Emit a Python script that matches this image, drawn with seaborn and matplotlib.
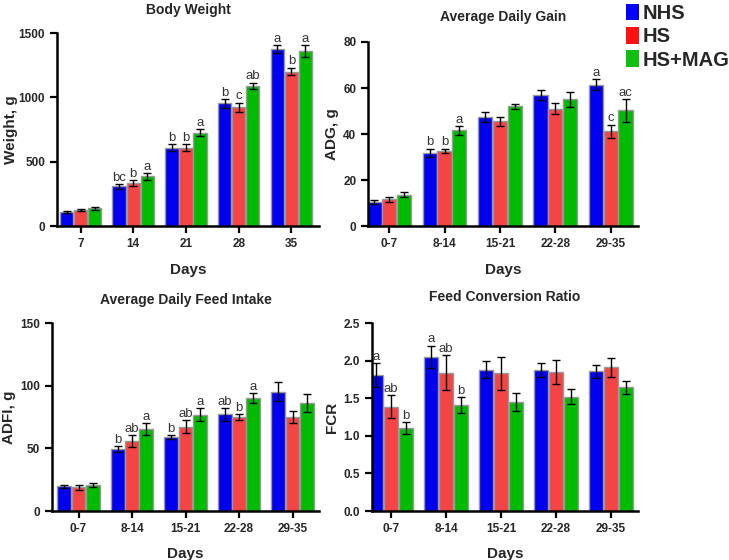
import numpy as np
import pandas as pd
import matplotlib
matplotlib.use("Agg")
import matplotlib.pyplot as plt
import seaborn as sns
from matplotlib.patches import Patch

groups = ["NHS", "HS", "HS+MAG"]
bw_days = ["7", "14", "21", "28", "35"]
periods = ["0-7", "8-14", "15-21", "22-28", "29-35"]

# Body weight, g
bw_nhs = [114, 309, 611, 954, 1375]
bw_hs = [127, 335, 611, 923, 1201]
bw_mag = [138, 387, 725, 1089, 1360]
bw_err_nhs = [8, 18, 28, 35, 32]
bw_err_hs = [8, 22, 25, 36, 30]
bw_err_mag = [13, 28, 28, 26, 45]
bw_let_nhs = ["", "bc", "b", "b", "a"]
bw_let_hs = ["", "b", "b", "c", "b"]
bw_let_mag = ["", "a", "a", "ab", "a"]

# Average daily gain, g
adg_nhs = [10.4, 31.8, 47.3, 57.0, 61.5]
adg_hs = [11.7, 32.8, 45.6, 51.1, 41.2]
adg_mag = [13.7, 41.7, 52.1, 55.1, 50.3]
adg_err_nhs = [0.9, 1.9, 2.2, 2.2, 2.4]
adg_err_hs = [1.1, 0.9, 2.0, 2.4, 2.9]
adg_err_mag = [1.1, 1.9, 1.0, 3.2, 4.9]
adg_let_nhs = ["", "b", "", "", "a"]
adg_let_hs = ["", "b", "", "", "c"]
adg_let_mag = ["", "a", "", "", "ac"]

# Average daily feed intake, g
adfi_nhs = [19.7, 49.4, 59.0, 77.1, 95.3]
adfi_hs = [18.9, 55.8, 67.3, 75.0, 75.0]
adfi_mag = [20.5, 65.4, 76.9, 90.2, 86.5]
adfi_err_nhs = [1.2, 2.3, 1.5, 5.0, 7.7]
adfi_err_hs = [2.0, 4.8, 5.0, 2.5, 5.0]
adfi_err_mag = [1.5, 5.0, 5.2, 3.9, 7.3]
adfi_let_nhs = ["", "b", "b", "ab", ""]
adfi_let_hs = ["", "ab", "ab", "b", ""]
adfi_let_mag = ["", "a", "a", "a", ""]

# Feed conversion ratio
fcr_nhs = [1.81, 2.05, 1.88, 1.87, 1.86]
fcr_hs = [1.39, 1.84, 1.83, 1.85, 1.91]
fcr_mag = [1.10, 1.41, 1.445, 1.52, 1.645]
fcr_err_nhs = [0.155, 0.15, 0.11, 0.093, 0.086]
fcr_err_hs = [0.15, 0.23, 0.215, 0.16, 0.13]
fcr_err_mag = [0.078, 0.11, 0.12, 0.1, 0.082]
fcr_let_nhs = ["a", "a", "", "", ""]
fcr_let_hs = ["ab", "ab", "", "", ""]
fcr_let_mag = ["b", "b", "", "", ""]

bar_colors = {"NHS": "#0000F0", "HS": "#F44444", "HS+MAG": "#00BB00"}
legend_colors = {"NHS": "#0000FF", "HS": "#FF1010", "HS+MAG": "#10C010"}

sns.set_style("ticks")
plt.rcParams["font.family"] = ["Liberation Sans", "DejaVu Sans"]


def long_df(cats, vals, errs, lets):
    rows = []
    for g, v, e, l in zip(groups, vals, errs, lets):
        for c, vv, ee, ll in zip(cats, v, e, l):
            rows.append({"cat": c, "group": g, "value": vv, "err": ee, "letter": ll})
    return pd.DataFrame(rows)


def panel(ax, df, cats, title, ylabel, ymax, yticks, xlim, fmt, title_pad, off, ylab_x):
    sns.barplot(data=df, x="cat", y="value", hue="group", order=cats,
                hue_order=groups, palette=bar_colors, saturation=1, width=0.8,
                gap=0.04, edgecolor="#999999", linewidth=1.0, errorbar=None,
                legend=False, ax=ax)
    for g, cont in zip(groups, ax.containers):
        sub = df[df["group"] == g].set_index("cat").loc[cats]
        xs = [p.get_x() + p.get_width() / 2 for p in cont.patches]
        ys = [p.get_height() for p in cont.patches]
        ax.errorbar(xs, ys, yerr=sub["err"].values, fmt="none", ecolor="black",
                    elinewidth=1.0, capsize=3, capthick=1.0, zorder=5)
        for x, y, e, l in zip(xs, ys, sub["err"].values, sub["letter"].values):
            if l:
                ax.text(x, y + e + off, l, ha="center", va="bottom",
                        fontsize=9.5, color="#333333")
    ax.set_ylim(0, ymax)
    ax.set_yticks(yticks)
    ax.set_yticklabels([fmt.format(t) for t in yticks])
    ax.set_xlim(*xlim)
    ax.set_title(title, fontsize=10, fontweight="bold", pad=title_pad)
    ax.set_xlabel("Days", fontsize=11, fontweight="bold", labelpad=9)
    ax.set_ylabel(ylabel, fontsize=11, fontweight="bold")
    ax.yaxis.set_label_coords(ylab_x, 0.5)
    sns.despine(ax=ax)
    for s in ["left", "bottom"]:
        ax.spines[s].set_linewidth(1.8)
        ax.spines[s].set_color("black")
    ax.tick_params(axis="both", width=1.6, length=5, labelsize=8.5, color="black")
    for lab in ax.get_xticklabels() + ax.get_yticklabels():
        lab.set_fontweight("bold")


fig = plt.figure(figsize=(7.29, 5.60), dpi=100)
ax1 = fig.add_axes([0.078, 0.596, 0.360, 0.345])
ax2 = fig.add_axes([0.505, 0.596, 0.370, 0.329])
ax3 = fig.add_axes([0.071, 0.0875, 0.367, 0.3355])
ax4 = fig.add_axes([0.510, 0.0875, 0.365, 0.3355])

panel(ax1, long_df(bw_days, [bw_nhs, bw_hs, bw_mag],
                   [bw_err_nhs, bw_err_hs, bw_err_mag],
                   [bw_let_nhs, bw_let_hs, bw_let_mag]),
      bw_days, "Body Weight", "Weight, g", 1500, [0, 500, 1000, 1500],
      (-0.45, 4.53), "{:.0f}", 14, 2, -0.149)
panel(ax2, long_df(periods, [adg_nhs, adg_hs, adg_mag],
                   [adg_err_nhs, adg_err_hs, adg_err_mag],
                   [adg_let_nhs, adg_let_hs, adg_let_mag]),
      periods, "Average Daily Gain", "ADG, g", 80, [0, 20, 40, 60, 80],
      (-0.38, 4.49), "{:.0f}", 15, 0.1, -0.107)
panel(ax3, long_df(periods, [adfi_nhs, adfi_hs, adfi_mag],
                   [adfi_err_nhs, adfi_err_hs, adfi_err_mag],
                   [adfi_let_nhs, adfi_let_hs, adfi_let_mag]),
      periods, "Average Daily Feed Intake", "ADFI, g", 150, [0, 50, 100, 150],
      (-0.5, 4.5), "{:.0f}", 14, 0.2, -0.135)
panel(ax4, long_df(periods, [fcr_nhs, fcr_hs, fcr_mag],
                   [fcr_err_nhs, fcr_err_hs, fcr_err_mag],
                   [fcr_let_nhs, fcr_let_hs, fcr_let_mag]),
      periods, "Feed Conversion Ratio", "FCR", 2.5, [0, 0.5, 1.0, 1.5, 2.0, 2.5],
      (-0.35, 4.49), "{:.1f}", 16, 0.003, -0.124)

handles = [Patch(facecolor=legend_colors[g], edgecolor="none", label=g) for g in groups]
leg = fig.legend(handles=handles, loc="upper left", bbox_to_anchor=(0.848, 1.008),
                 frameon=False, fontsize=14.5, handlelength=0.65, handleheight=0.9,
                 handletextpad=0.15, labelspacing=0.2, borderaxespad=0)
for t in leg.get_texts():
    t.set_fontweight("bold")

fig.savefig("out.png", dpi=100)
